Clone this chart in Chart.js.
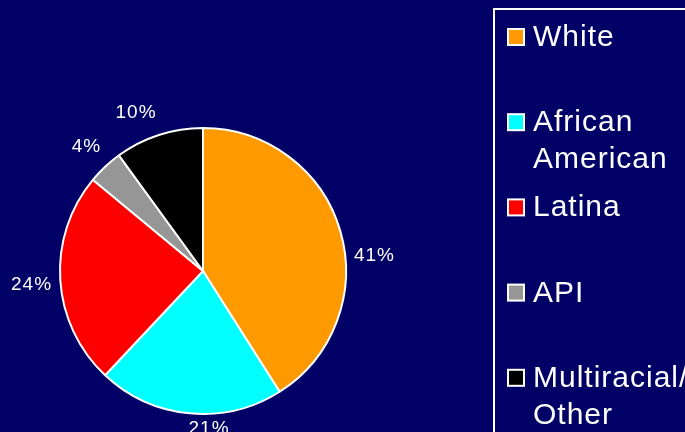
<!DOCTYPE html>
<html>
<head>
<meta charset="utf-8">
<script src="https://cdn.jsdelivr.net/npm/chart.js@4/dist/chart.umd.min.js"></script>
<style>
  html, body { margin: 0; padding: 0; background: #000066; }
  canvas { display: block; }
</style>
</head>
<body>
<canvas id="c" width="685" height="432"></canvas>
<script>
// ---- data ----
const categories = ['White', 'African American', 'Latina', 'API', 'Multiracial/Other'];
const shares = [41, 21, 24, 4, 10];
const sliceColors = ['#FF9900', '#00FFFF', '#FF0000', '#969696', '#000000'];

// ---- label placement tweaks (style only) ----
const labelAngleShiftDeg = [11.2, -7.6, -1.1, 0, -5];
const labelGap = [8, 7, 8, 12, 14];

const FONT = '"Liberation Sans", Arial, Helvetica, sans-serif';

const pieLabels = {
  id: 'pieLabels',
  afterDatasetsDraw(chart) {
    const ctx = chart.ctx;
    const meta = chart.getDatasetMeta(0);
    const data = chart.data.datasets[0].data;
    ctx.save();
    ctx.font = '19px ' + FONT;
    try { ctx.letterSpacing = '1px'; } catch (e) {}
    ctx.fillStyle = '#FFFFFF';
    ctx.textAlign = 'center';
    ctx.textBaseline = 'middle';
    meta.data.forEach((arc, i) => {
      const p = arc.getProps(['x', 'y', 'startAngle', 'endAngle', 'outerRadius'], true);
      const mid = (p.startAngle + p.endAngle) / 2 + labelAngleShiftDeg[i] * Math.PI / 180;
      const dx = Math.cos(mid), dy = Math.sin(mid);
      const txt = data[i] + '%';
      const w = ctx.measureText(txt).width;
      const h = 14;
      const half = Math.abs(dx) * w / 2 + Math.abs(dy) * h / 2;
      const dist = p.outerRadius + labelGap[i] + half;
      ctx.fillText(txt, p.x + dx * dist, p.y + dy * dist);
    });
    ctx.restore();
  }
};

function wrapText(ctx, text, maxW) {
  // break opportunities after spaces and slashes
  const tokens = text.match(/[^ \/]+\/?|\s+/g) || [text];
  const lines = [];
  let cur = '';
  tokens.forEach(t => {
    const trial = cur + t;
    if (cur.trim() !== '' && ctx.measureText(trial.trimEnd()).width > maxW) {
      lines.push(cur.trimEnd());
      cur = t.trimStart();
    } else {
      cur = trial;
    }
  });
  if (cur.trim() !== '') lines.push(cur.trimEnd());
  return lines;
}

const boxLegend = {
  id: 'boxLegend',
  afterDraw(chart) {
    const ctx = chart.ctx;
    const ds = chart.data.datasets[0];
    ctx.save();
    // frame
    ctx.strokeStyle = '#FFFFFF';
    ctx.lineWidth = 2;
    ctx.strokeRect(494, 9, 260, 480);
    ctx.font = '30px ' + FONT;
    try { ctx.letterSpacing = '1px'; } catch (e) {}
    ctx.textAlign = 'left';
    ctx.textBaseline = 'alphabetic';
    chart.data.labels.forEach((lab, i) => {
      const base = 46 + i * 85.2;
      // swatch
      ctx.fillStyle = ds.backgroundColor[i];
      ctx.fillRect(508, base - 17, 16, 16);
      ctx.lineWidth = 2;
      ctx.strokeStyle = '#FFFFFF';
      ctx.strokeRect(508, base - 17, 16, 16);
      // text
      ctx.fillStyle = '#FFFFFF';
      const lines = wrapText(ctx, lab, 160);
      lines.forEach((ln, k) => ctx.fillText(ln, 533, base + k * 37));
    });
    ctx.restore();
  }
};

new Chart(document.getElementById('c'), {
  type: 'pie',
  data: {
    labels: categories,
    datasets: [{
      data: shares,
      backgroundColor: sliceColors,
      borderColor: '#FFFFFF',
      borderWidth: 2,
      hoverBorderWidth: 2,
      hoverOffset: 0
    }]
  },
  options: {
    responsive: false,
    devicePixelRatio: 1,
    animation: false,
    events: [],
    layout: { padding: { top: 127, bottom: 17, left: 59, right: 338 } },
    plugins: {
      legend: { display: false },
      tooltip: { enabled: false }
    }
  },
  plugins: [pieLabels, boxLegend]
});
</script>
</body>
</html>
